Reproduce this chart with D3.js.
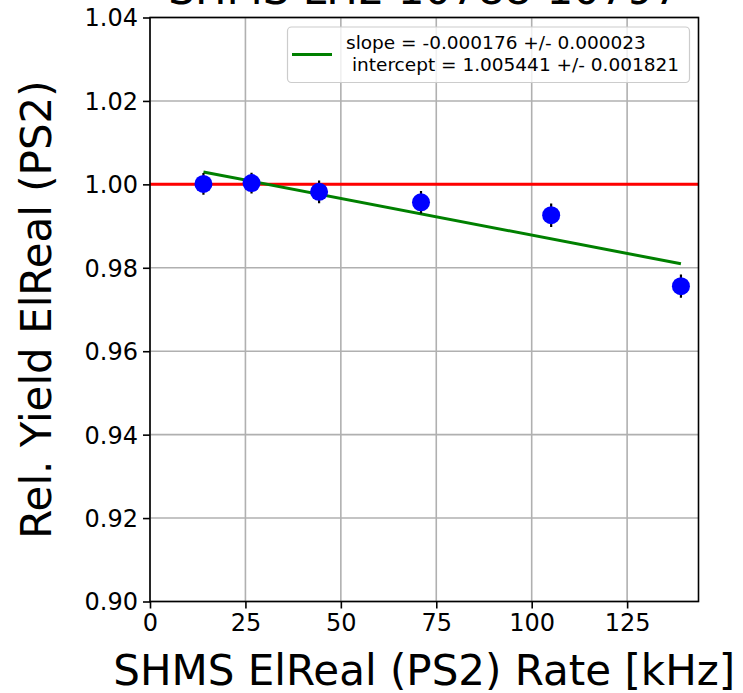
<!DOCTYPE html>
<html>
<head>
<meta charset="utf-8">
<script src="https://cdn.jsdelivr.net/npm/d3@7"></script>
<style>
  html, body { margin: 0; padding: 0; background: #fff; }
  svg { display: block; font-family: "DejaVu Sans", sans-serif; }
</style>
</head>
<body>
<svg id="chart" width="743" height="693"></svg>
<script>
// ---- data ----
const rates = [14.0, 26.6, 44.3, 71.0, 105.1, 139.1];          // kHz
const yields = [1.0001, 1.0003, 0.9982, 0.9957, 0.9926, 0.9756];
const yieldErrs = [0.0026, 0.0025, 0.0027, 0.0027, 0.0028, 0.0028];
const fitSlope = -0.000176;
const fitIntercept = 1.005441;
const legendLines = ["slope = -0.000176 +/- 0.000023", "\u00A0intercept = 1.005441 +/- 0.001821"];
const xTicks = [0, 25, 50, 75, 100, 125];
const yTicks = [0.90, 0.92, 0.94, 0.96, 0.98, 1.00, 1.02, 1.04];
const titleText = "SHMS LH2 10788-10797";
const xLabel = "SHMS ElReal (PS2) Rate [kHz]";
const yLabel = "Rel. Yield ElReal (PS2)";

// ---- layout ----
const pL = 150, pR = 698.5, pT = 17.5, pB = 601.5;
const svg = d3.select("#chart");

const x = d3.scaleLinear().domain([0, 143.7]).range([pL, pR]);
const y = d3.scaleLinear().domain([0.90, 1.04]).range([pB, pT]);

// grid
const grid = svg.append("g");
grid.selectAll("line.gx").data(xTicks).enter().append("line")
  .attr("x1", d => x(d)).attr("x2", d => x(d)).attr("y1", pT).attr("y2", pB)
  .attr("stroke", "#b0b0b0").attr("stroke-width", 1.6);
grid.selectAll("line.gy").data(yTicks).enter().append("line")
  .attr("y1", d => y(d)).attr("y2", d => y(d)).attr("x1", pL).attr("x2", pR)
  .attr("stroke", "#b0b0b0").attr("stroke-width", 1.6);

// clip
svg.append("clipPath").attr("id", "plotclip").append("rect")
  .attr("x", pL).attr("y", pT).attr("width", pR - pL).attr("height", pB - pT);
const plot = svg.append("g").attr("clip-path", "url(#plotclip)");

// reference line at 1.0
plot.append("line")
  .attr("x1", pL).attr("x2", pR).attr("y1", y(1.0)).attr("y2", y(1.0))
  .attr("stroke", "#ff0000").attr("stroke-width", 3);

// fit line
const xMin = d3.min(rates), xMax = d3.max(rates);
const fitPts = [xMin, xMax].map(v => [v, fitIntercept + fitSlope * v]);
plot.append("path")
  .attr("d", d3.line().x(d => x(d[0])).y(d => y(d[1]))(fitPts))
  .attr("stroke", "#008000").attr("stroke-width", 3).attr("fill", "none");

// error bars
const pts = rates.map((r, i) => ({ r, v: yields[i], e: yieldErrs[i] }));
plot.selectAll("line.err").data(pts).enter().append("line")
  .attr("x1", d => x(d.r)).attr("x2", d => x(d.r))
  .attr("y1", d => y(d.v - d.e)).attr("y2", d => y(d.v + d.e))
  .attr("stroke", "#000").attr("stroke-width", 2.2);

// points
plot.selectAll("circle.pt").data(pts).enter().append("circle")
  .attr("cx", d => x(d.r)).attr("cy", d => y(d.v)).attr("r", 9)
  .attr("fill", "#0000ff");

// axes
const xAxis = svg.append("g").attr("transform", `translate(0,${pB})`)
  .call(d3.axisBottom(x).tickValues(xTicks).tickFormat(d3.format("d")).tickSize(7).tickSizeOuter(0));
const yAxis = svg.append("g").attr("transform", `translate(${pL},0)`)
  .call(d3.axisLeft(y).tickValues(yTicks).tickFormat(d3.format(".2f")).tickSize(7).tickSizeOuter(0));
[xAxis, yAxis].forEach(a => {
  a.select(".domain").remove();
  a.selectAll(".tick line").attr("stroke", "#000").attr("stroke-width", 1.6);
  a.selectAll(".tick text").attr("fill", "#000")
    .style("font-family", "DejaVu Sans").style("font-size", "24px");
});
xAxis.selectAll(".tick text").attr("y", 12).attr("dy", "0.71em");
yAxis.selectAll(".tick text").attr("x", -12).attr("dy", "0.35em");

// frame
svg.append("rect").attr("x", pL).attr("y", pT)
  .attr("width", pR - pL).attr("height", pB - pT)
  .attr("fill", "none").attr("stroke", "#000").attr("stroke-width", 1.6);

// legend
const lg = svg.append("g");
lg.append("rect").attr("x", 287.5).attr("y", 27).attr("width", 402).attr("height", 55.5)
  .attr("rx", 4).attr("ry", 4)
  .attr("fill", "#ffffff").attr("fill-opacity", 0.8)
  .attr("stroke", "#cccccc").attr("stroke-width", 1.2);
lg.append("line").attr("x1", 292).attr("x2", 332).attr("y1", 54.5).attr("y2", 54.5)
  .attr("stroke", "#008000").attr("stroke-width", 3);
lg.selectAll("text").data(legendLines).enter().append("text")
  .attr("x", 346).attr("y", (d, i) => 48.5 + i * 22)
  .style("font-size", "18.5px").attr("fill", "#000")
  .text(d => d);

// title (cut off at the top, as in the reference)
svg.append("text").attr("x", (pL + pR) / 2).attr("y", 3.5)
  .attr("text-anchor", "middle").style("font-size", "42px").attr("fill", "#000")
  .text(titleText);

// axis labels
svg.append("text").attr("x", (pL + pR) / 2).attr("y", 685)
  .attr("text-anchor", "middle").style("font-size", "42px").attr("fill", "#000")
  .text(xLabel);
svg.append("text")
  .attr("transform", `translate(51,${(pT + pB) / 2}) rotate(-90)`)
  .attr("text-anchor", "middle").style("font-size", "42px").attr("fill", "#000")
  .text(yLabel);
</script>
</body>
</html>
